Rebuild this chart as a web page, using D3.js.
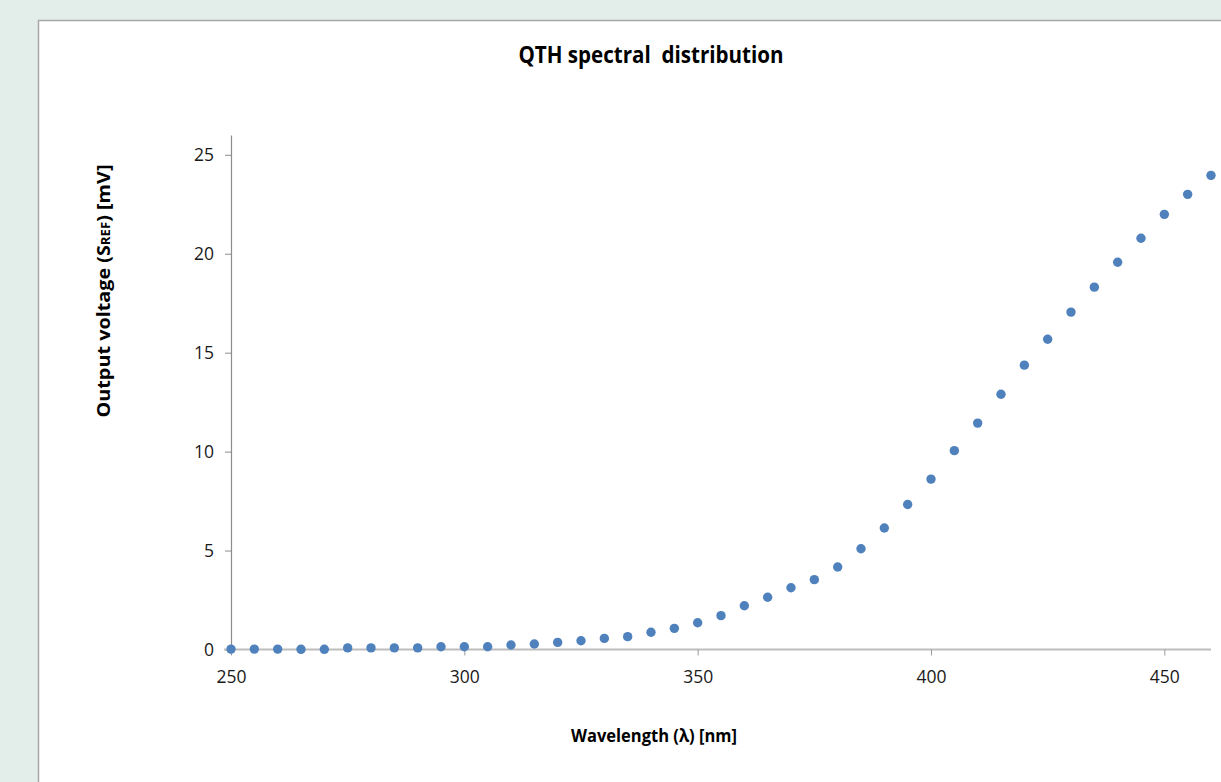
<!DOCTYPE html>
<html lang="en">
<head>
<meta charset="utf-8">
<title>QTH spectral distribution</title>
<style>
  body { margin: 0; background: #e3edea; }
  svg { display: block; }
  .tick text { font-family: "Open Sans", sans-serif; font-size: 17.5px; fill: #1a1a1a; }
</style>
</head>
<body>
<svg id="chart" width="1221" height="782"></svg>
<script src="https://d3js.org/d3.v7.min.js"></script>
<script>
// wavelength [nm]
const wavelength = [250, 255, 260, 265, 270, 275, 280, 285, 290, 295, 300, 305, 310, 315, 320, 325, 330, 335, 340, 345,
  350, 355, 360, 365, 370, 375, 380, 385, 390, 395, 400, 405, 410, 415, 420, 425, 430, 435, 440, 445, 450, 455, 460];
// output voltage [mV]
const voltage = [0.02, 0.02, 0.02, 0.01, 0.01, 0.08, 0.08, 0.08, 0.08, 0.14, 0.14, 0.14, 0.23, 0.28, 0.36, 0.44, 0.56, 0.65, 0.87, 1.07,
  1.35, 1.71, 2.21, 2.64, 3.12, 3.53, 4.17, 5.09, 6.14, 7.33, 8.61, 10.05, 11.44, 12.9, 14.37, 15.68, 17.05, 18.31, 19.57, 20.78, 21.99, 23.0, 23.96];
const xTicks = [250, 300, 350, 400, 450];
const yTicks = [0, 5, 10, 15, 20, 25];

const svg = d3.select("#chart");

// white chart panel
svg.append("rect")
  .attr("x", 38.5).attr("y", 20.5)
  .attr("width", 1300).attr("height", 900)
  .attr("fill", "#fff")
  .attr("stroke", "#a7a7a7")
  .attr("stroke-width", 1.5);

const x = d3.scaleLinear().domain([250, 460]).range([231, 1211]);
const y = d3.scaleLinear().domain([0, 26]).range([649.5, 135]);

// y axis
const yAxis = svg.append("g")
  .attr("transform", "translate(231,0)")
  .call(d3.axisLeft(y).tickValues(yTicks).tickSize(6).tickPadding(11).tickSizeOuter(0));
yAxis.select(".domain").attr("stroke", "#8c8c8c").attr("stroke-width", 1.2);
yAxis.selectAll(".tick line").attr("stroke", "#8c8c8c");

// x axis
const xAxis = svg.append("g")
  .attr("transform", "translate(0,649.5)")
  .call(d3.axisBottom(x).tickValues(xTicks).tickSize(6).tickPadding(15).tickSizeOuter(0));
xAxis.select(".domain").attr("stroke", "#bdbdbd").attr("stroke-width", 2)
  .attr("d", `M224,0H${x(460)}`);
xAxis.selectAll(".tick line").attr("stroke", "#9a9a9a");

// points
const data = wavelength.map((w, i) => ({ w: w, v: voltage[i] }));
svg.append("g").selectAll("circle").data(data)
  .join("circle")
  .attr("cx", d => x(d.w))
  .attr("cy", d => y(d.v))
  .attr("r", 4.7)
  .attr("fill", "#4f81bd");

// title
svg.append("text")
  .attr("x", 651).attr("y", 63)
  .attr("text-anchor", "middle")
  .attr("textLength", 265)
  .attr("lengthAdjust", "spacingAndGlyphs")
  .style("font-family", "'Open Sans', sans-serif")
  .style("font-weight", "bold")
  .style("font-size", "23px")
  .attr("xml:space", "preserve")
  .text("QTH spectral  distribution");

// x label
svg.append("text")
  .attr("x", 654).attr("y", 742)
  .attr("text-anchor", "middle")
  .attr("textLength", 166)
  .attr("lengthAdjust", "spacingAndGlyphs")
  .style("font-family", "'Open Sans', sans-serif")
  .style("font-weight", "bold")
  .style("font-size", "17px")
  .text("Wavelength (λ) [nm]");

// y label
const yl = svg.append("text")
  .attr("transform", "translate(110,291) rotate(-90)")
  .attr("text-anchor", "middle")
  .attr("textLength", 253)
  .attr("lengthAdjust", "spacingAndGlyphs")
  .style("font-family", "'Open Sans', sans-serif")
  .style("font-weight", "bold")
  .style("font-size", "18px");
yl.append("tspan").text("Output voltage (S");
yl.append("tspan").style("font-size", "12px").text("REF");
yl.append("tspan").text(") [mV]");
</script>
</body>
</html>
